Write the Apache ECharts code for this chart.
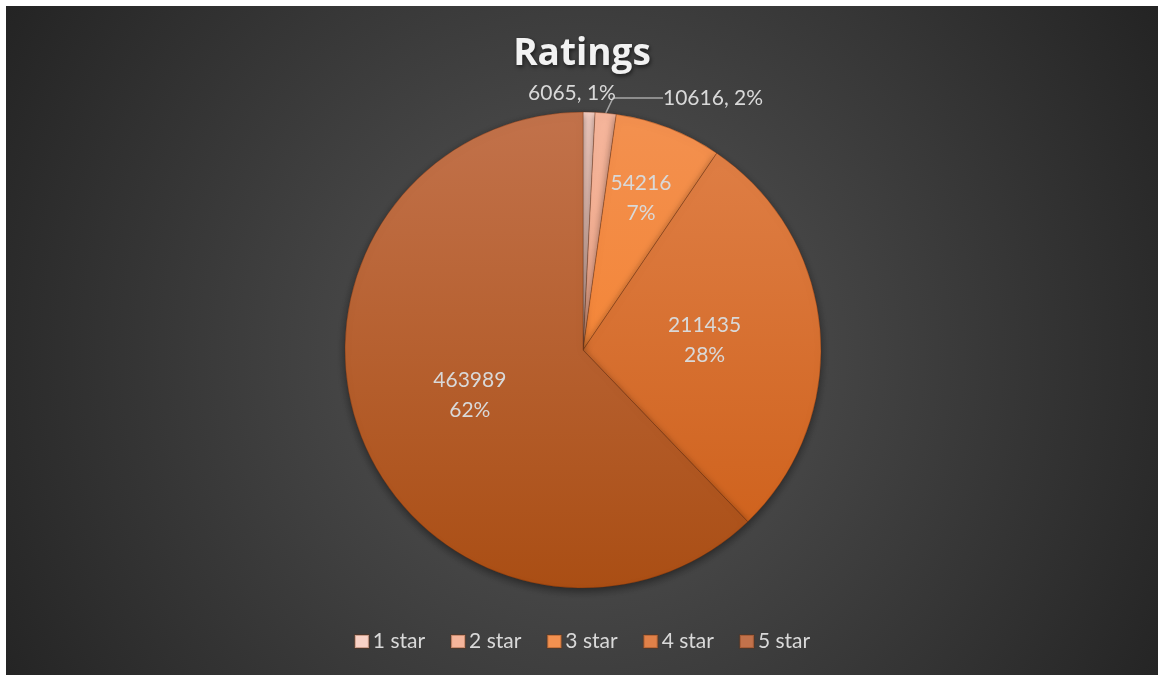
<!DOCTYPE html>
<html>
<head>
<meta charset="utf-8">
<script src="https://cdn.jsdelivr.net/npm/echarts@6/dist/echarts.min.js"></script>
<style>
  html, body { margin: 0; padding: 0; background: #fff; }
  #chart { position: absolute; left: 6px; top: 6px; width: 1152px; height: 669px; }
</style>
</head>
<body>
<div id="chart"></div>
<script>
// 数据
var categories = ['1 star', '2 star', '3 star', '4 star', '5 star'];
var ratingCounts = [6065, 10616, 54216, 211435, 463989];

// 颜色 (上->下渐变)
var topColors = ['#F9D2C6', '#F5B59B', '#F39150', '#E08149', '#C2724B'];
var bottomColors = ['#F7C5B4', '#F3A482', '#F47A20', '#CD5E17', '#AA4E14'];

var cx = 577, cy = 344, rad = 238;

function grad(i) {
    return new echarts.graphic.LinearGradient(0, cy - rad, 0, cy + rad, [
        { offset: 0, color: topColors[i] },
        { offset: 1, color: bottomColors[i] }
    ], true);
}

var pieData = [];
for (var i = 0; i < categories.length; i++) {
    var item = {
        name: categories[i],
        value: ratingCounts[i],
        itemStyle: { color: grad(i) }
    };
    if (i < 2) {
        item.label = { position: 'outside', formatter: '{c}, {d}%' };
        item.labelLine = { show: i == 1 };
    }
    pieData.push(item);
}

var chart = echarts.init(document.getElementById('chart'));
var option = {
    backgroundColor: new echarts.graphic.RadialGradient(0.5, 0.52, 1, [
        { offset: 0, color: '#575757' },
        { offset: 1, color: '#242424' }
    ]),
    title: {
        text: 'Ratings',
        left: 'center',
        top: 25,
        textStyle: {
            fontFamily: 'Open Sans',
            fontSize: 37,
            fontWeight: 'bold',
            color: '#F2F2F2',
            textShadowColor: 'rgba(0,0,0,0.6)',
            textShadowBlur: 4,
            textShadowOffsetX: 1,
            textShadowOffsetY: 2
        }
    },
    legend: {
        data: categories,
        bottom: 18,
        left: 'center',
        itemWidth: 14,
        itemHeight: 13,
        itemGap: 25,
        icon: 'rect',
        textStyle: { fontFamily: 'Lato', fontSize: 21, color: '#D9D9D9', padding: [0, 0, 0, -1] }
    },
    series: [{
        type: 'pie',
        center: [cx, cy],
        radius: rad,
        startAngle: 90,
        clockwise: true,
        avoidLabelOverlap: false,
        percentPrecision: 0,
        legendHoverLink: false,
        label: {
            show: true,
            position: 'inside',
            formatter: '{c}\n{d}%',
            fontFamily: 'Lato',
            fontSize: 21,
            lineHeight: 30,
            color: '#D9D9D9'
        },
        labelLine: {
            show: true,
            length: 2,
            length2: 50,
            smooth: false,
            lineStyle: { color: '#A6A6A6', width: 1.5 }
        },
        labelLayout: function (p) {
            if (p.dataIndex == 0) {
                return { x: 566, y: 87, align: 'center', verticalAlign: 'middle' };
            }
            if (p.dataIndex == 1) {
                return { x: 657, y: 92, align: 'left', verticalAlign: 'middle' };
            }
            if (p.dataIndex == 2) {
                return { dx: 14, dy: -38 };
            }
            return {};
        },
        itemStyle: {
            borderColor: 'rgba(110,45,10,0.3)',
            borderWidth: 0.6,
            shadowBlur: 8,
            shadowColor: 'rgba(0,0,0,0.45)',
            shadowOffsetY: 3
        },
        emphasis: { disabled: true },
        data: pieData
    }]
};
chart.setOption(option);
</script>
</body>
</html>
